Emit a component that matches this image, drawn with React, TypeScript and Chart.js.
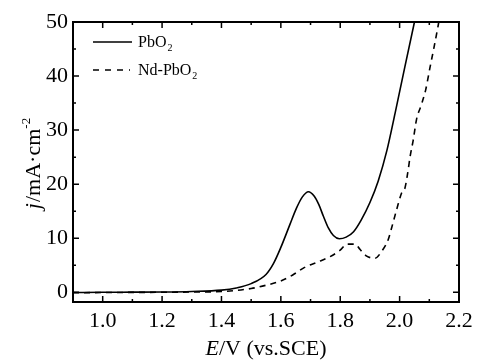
import React, { useEffect, useRef } from 'react';
import { Chart, registerables } from 'chart.js';
Chart.register(...registerables);

// PbO2 (solid)
const pbo2E = [0.9, 1.0, 1.1, 1.2, 1.3, 1.4, 1.45, 1.5, 1.55, 1.575, 1.6, 1.631, 1.653, 1.672, 1.693, 1.712, 1.728, 1.743, 1.76, 1.777, 1.797, 1.82, 1.845, 1.87, 1.9, 1.928, 1.957, 1.985, 2.018, 2.05, 2.07];
const pbo2J = [-0.05, 0, 0.02, 0.05, 0.15, 0.4, 0.8, 1.6, 3.3, 5.3, 8.3, 12.6, 15.6, 17.6, 18.6, 17.8, 16.2, 14.1, 11.9, 10.5, 9.9, 10.2, 11.2, 13.3, 16.6, 20.6, 26.2, 33.2, 41.8, 50, 55];
// Nd-PbO2 (dashed)
const ndE = [0.9, 1.0, 1.2, 1.3, 1.4, 1.5, 1.55, 1.6, 1.64, 1.68, 1.72, 1.766, 1.8, 1.822, 1.85, 1.867, 1.889, 1.917, 1.94, 1.962, 1.973, 1.99, 2.007, 2.018, 2.029, 2.035, 2.046, 2.057, 2.072, 2.088, 2.102, 2.114, 2.13, 2.135];
const ndJ = [-0.1, -0.05, 0, 0.05, 0.13, 0.7, 1.3, 2.1, 3.2, 4.6, 5.5, 6.6, 7.8, 8.9, 8.9, 7.9, 6.7, 6.3, 7.6, 9.8, 11.9, 15.3, 18.4, 19.3, 22.7, 25.0, 28.2, 32.0, 34.5, 37.5, 41.5, 44.8, 49.4, 51];

const xTickLabels = [1.0, 1.2, 1.4, 1.6, 1.8, 2.0, 2.2];
const yTickLabels = [0, 10, 20, 30, 40, 50];
const xMinorTicks = [0.9, 1.1, 1.3, 1.5, 1.7, 1.9, 2.1];
const yMinorTicks = [5, 15, 25, 35, 45];

const FAMILY = '"Liberation Serif", "Times New Roman", serif';

const decorPlugin = {
  id: 'decor',
  afterDatasetsDraw(chart: any) {
    const { ctx, chartArea: a, scales } = chart;
    const xs = scales.x, ys = scales.y;
    ctx.save();
    ctx.strokeStyle = '#000';
    ctx.fillStyle = '#000';
    ctx.lineWidth = 1.5;
    const vt = (v: number, len: number) => {
      const px = xs.getPixelForValue(v);
      ctx.beginPath();
      ctx.moveTo(px, a.bottom); ctx.lineTo(px, a.bottom - len);
      ctx.moveTo(px, a.top); ctx.lineTo(px, a.top + len);
      ctx.stroke();
    };
    const ht = (v: number, len: number) => {
      const py = ys.getPixelForValue(v);
      ctx.beginPath();
      ctx.moveTo(a.left, py); ctx.lineTo(a.left + len, py);
      ctx.moveTo(a.right, py); ctx.lineTo(a.right - len, py);
      ctx.stroke();
    };
    xTickLabels.forEach((v) => vt(v, 6));
    xMinorTicks.forEach((v) => vt(v, 3));
    yTickLabels.forEach((v) => ht(v, 6));
    yMinorTicks.forEach((v) => ht(v, 3));
    ctx.lineWidth = 2;
    ctx.strokeRect(a.left, a.top, a.right - a.left, a.bottom - a.top);

    // legend
    ctx.lineWidth = 1.5;
    ctx.beginPath();
    ctx.moveTo(93, 42); ctx.lineTo(132, 42);
    ctx.stroke();
    ctx.setLineDash([6, 6]);
    ctx.beginPath();
    ctx.moveTo(93, 70); ctx.lineTo(130, 70);
    ctx.stroke();
    ctx.setLineDash([]);
    ctx.textBaseline = 'alphabetic';
    ctx.textAlign = 'left';
    const legendText = (t: string, x: number, y: number) => {
      ctx.font = `16px ${FAMILY}`;
      ctx.fillText(t, x, y);
      const w = ctx.measureText(t).width;
      ctx.font = `10px ${FAMILY}`;
      ctx.fillText('2', x + w + 1, y + 4);
    };
    legendText('PbO', 138, 47);
    legendText('Nd-PbO', 138, 75);

    // x title
    ctx.font = `italic 22px ${FAMILY}`;
    const wE = ctx.measureText('E').width;
    ctx.font = `22px ${FAMILY}`;
    const rest = '/V (vs.SCE)';
    const wR = ctx.measureText(rest).width;
    const cx = (a.left + a.right) / 2;
    const sx = cx - (wE + wR) / 2;
    ctx.font = `italic 22px ${FAMILY}`;
    ctx.fillText('E', sx, 355);
    ctx.font = `22px ${FAMILY}`;
    ctx.fillText(rest, sx + wE, 355);

    // y title
    ctx.save();
    ctx.translate(40, 0);
    ctx.rotate(-Math.PI / 2);
    ctx.font = `italic 22px ${FAMILY}`;
    const wj = ctx.measureText('j').width;
    ctx.font = `22px ${FAMILY}`;
    const mid = '/mA\u00B7cm';
    const wm = ctx.measureText(mid).width;
    ctx.font = `13px ${FAMILY}`;
    const ws = ctx.measureText('-2').width;
    const total = wj + wm + ws;
    const cy = (a.top + a.bottom) / 2 + 2;
    const start = -cy - total / 2;
    ctx.font = `italic 22px ${FAMILY}`;
    ctx.fillText('j', start, 0);
    ctx.font = `22px ${FAMILY}`;
    ctx.fillText(mid, start + wj + 1, 0);
    ctx.font = `13px ${FAMILY}`;
    ctx.fillText('-2', start + wj + wm + 1, -10);
    ctx.restore();

    ctx.restore();
  },
};

export default function App() {
  const ref = useRef<HTMLCanvasElement | null>(null);
  useEffect(() => {
    if (!ref.current) return;
    const chart = new Chart(ref.current, {
      type: 'line',
      data: {
        datasets: [
          {
            label: 'PbO2',
            data: pbo2E.map((x, i) => ({ x, y: pbo2J[i] })),
            borderColor: '#000',
            borderWidth: 1.6,
            pointRadius: 0,
            fill: false,
            cubicInterpolationMode: 'monotone',
          },
          {
            label: 'Nd-PbO2',
            data: ndE.map((x, i) => ({ x, y: ndJ[i] })),
            borderColor: '#000',
            borderWidth: 1.6,
            borderDash: [6, 5],
            pointRadius: 0,
            fill: false,
            cubicInterpolationMode: 'monotone',
          },
        ],
      },
      options: {
        responsive: false,
        animation: false,
        layout: { padding: { top: 22, right: 22, left: 0, bottom: 0 } },
        plugins: { legend: { display: false }, tooltip: { enabled: false } },
        scales: {
          x: {
            type: 'linear',
            min: 0.9,
            max: 2.2,
            grid: { display: false, drawTicks: false },
            border: { display: false },
            afterBuildTicks: (s: any) => { s.ticks = xTickLabels.map((v) => ({ value: v })); },
            afterFit: (s: any) => { s.height = 58; },
            ticks: {
              padding: 6,
              color: '#000',
              maxRotation: 0,
              font: { family: FAMILY, size: 22 },
              callback: (v: any) => Number(v).toFixed(1),
            },
          },
          y: {
            type: 'linear',
            min: -1.8,
            max: 50,
            grid: { display: false, drawTicks: false },
            border: { display: false },
            afterBuildTicks: (s: any) => { s.ticks = yTickLabels.map((v) => ({ value: v })); },
            afterFit: (s: any) => { s.width = 73; },
            ticks: {
              padding: 5,
              color: '#000',
              font: { family: FAMILY, size: 22 },
              callback: (v: any) => String(v),
            },
          },
        },
      },
      plugins: [decorPlugin],
    } as any);
    return () => chart.destroy();
  }, []);
  return (
    <div style={{ position: 'fixed', left: 0, top: 0, width: 481, height: 360, background: '#fff' }}>
      <canvas ref={ref} width={481} height={360} style={{ display: 'block' }} />
    </div>
  );
}
